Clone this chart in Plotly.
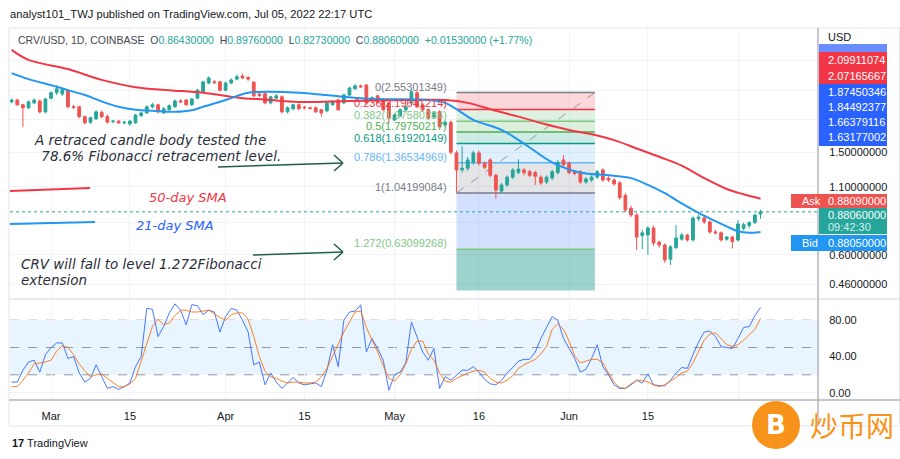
import math
import pandas as pd
import plotly.graph_objects as go

W, H = 900, 459

# ---------------- data ----------------
dates = pd.date_range("2022-02-22", periods=134, freq="D")

open_ = [2.35, 2.39, 2.29, 2.23, 2.33, 2.37, 2.15, 2.43, 2.55, 2.52,
         2.60, 2.25, 2.25, 2.06, 1.96, 2.02, 2.14, 2.06, 1.97, 1.98,
         1.95, 1.93, 1.95, 2.08, 2.13, 2.25, 2.29, 2.13, 2.19, 2.25,
         2.37, 2.39, 2.29, 2.43, 2.57, 2.78, 2.81, 2.81, 2.61, 2.78,
         2.88, 2.96, 2.92, 2.80, 2.52, 2.53, 2.33, 2.43, 2.46, 2.15,
         2.21, 2.29, 2.24, 2.23, 2.23, 2.19, 2.17, 2.29, 2.39, 2.33,
         2.50, 2.64, 2.71, 2.73, 2.41, 2.48, 2.37, 2.33, 2.00, 2.07,
         2.19, 2.33, 2.55, 2.29, 2.19, 2.06, 2.15, 1.91, 1.96, 1.49,
         1.28, 1.30, 1.37, 1.49, 1.36, 1.40, 1.22, 1.06, 1.12, 1.20,
         1.25, 1.28, 1.26, 1.25, 1.20, 1.15, 1.19, 1.25, 1.40, 1.36,
         1.26, 1.26, 1.15, 1.17, 1.20, 1.28, 1.19, 1.17, 1.14, 1.02,
         0.91, 0.856, 0.713, 0.716, 0.762, 0.672, 0.655, 0.577, 0.64, 0.69,
         0.716, 0.685, 0.828, 0.834, 0.805, 0.736, 0.73, 0.69, 0.703, 0.685,
         0.76, 0.78, 0.80, 0.8643]
high = [2.42, 2.42, 2.31, 2.38, 2.42, 2.40, 2.44, 2.58, 2.73, 2.66,
        2.63, 2.29, 2.27, 2.08, 2.06, 2.18, 2.18, 2.10, 2.00, 2.00,
        1.98, 2.00, 2.11, 2.15, 2.28, 2.33, 2.31, 2.24, 2.30, 2.40,
        2.41, 2.41, 2.44, 2.64, 2.84, 2.95, 2.86, 2.84, 2.82, 2.90,
        3.00, 3.02, 2.96, 2.83, 2.56, 2.56, 2.48, 2.52, 2.49, 2.26,
        2.31, 2.32, 2.27, 2.25, 2.26, 2.21, 2.36, 2.38, 2.42, 2.53,
        2.69, 2.76, 2.75, 2.76, 2.47, 2.51, 2.40, 2.35, 2.12, 2.22,
        2.29, 2.62, 2.60, 2.32, 2.22, 2.16, 2.18, 1.99, 1.99, 1.52,
        1.58, 1.44, 1.52, 1.52, 1.38, 1.42, 1.24, 1.14, 1.22, 1.30,
        1.41, 1.30, 1.28, 1.27, 1.22, 1.22, 1.28, 1.40, 1.46, 1.38,
        1.28, 1.28, 1.20, 1.22, 1.28, 1.30, 1.21, 1.19, 1.16, 1.04,
        0.93, 0.87, 0.75, 0.775, 0.78, 0.68, 0.665, 0.655, 0.783, 0.73,
        0.725, 0.845, 0.86, 0.85, 0.815, 0.75, 0.74, 0.71, 0.71, 0.82,
        0.80, 0.81, 0.865, 0.8976]
low = [2.32, 2.27, 1.88, 2.20, 2.30, 2.12, 2.12, 2.40, 2.50, 2.48,
       2.22, 2.20, 2.03, 1.92, 1.93, 2.00, 2.03, 1.94, 1.94, 1.93,
       1.92, 1.90, 1.93, 2.05, 2.11, 2.22, 2.12, 2.11, 2.17, 2.23,
       2.33, 2.27, 2.27, 2.41, 2.55, 2.75, 2.76, 2.58, 2.58, 2.75,
       2.85, 2.88, 2.84, 2.45, 2.45, 2.30, 2.30, 2.40, 2.12, 2.12,
       2.18, 2.18, 2.20, 2.19, 2.13, 2.06, 2.14, 2.27, 2.17, 2.30,
       2.47, 2.62, 2.66, 2.30, 2.38, 2.32, 2.16, 1.95, 1.98, 2.05,
       2.15, 2.29, 2.22, 2.15, 2.00, 2.02, 1.85, 1.88, 1.47, 1.042,
       1.25, 1.27, 1.34, 1.33, 1.29, 1.20, 0.99, 1.04, 1.10, 1.18,
       1.23, 1.22, 1.20, 1.12, 1.12, 1.13, 1.17, 1.23, 1.32, 1.23,
       1.22, 1.13, 1.13, 1.15, 1.18, 1.15, 1.15, 1.11, 0.98, 0.88,
       0.84, 0.626, 0.63, 0.60, 0.65, 0.64, 0.558, 0.548, 0.63, 0.68,
       0.675, 0.675, 0.81, 0.79, 0.725, 0.72, 0.675, 0.68, 0.635, 0.675,
       0.745, 0.76, 0.79, 0.8273]
close = [2.39, 2.29, 2.23, 2.35, 2.39, 2.15, 2.41, 2.55, 2.64, 2.62,
         2.25, 2.24, 2.06, 1.95, 2.04, 2.15, 2.06, 1.96, 1.98, 1.95,
         1.96, 1.98, 2.09, 2.13, 2.25, 2.29, 2.15, 2.21, 2.27, 2.37,
         2.35, 2.29, 2.41, 2.61, 2.81, 2.91, 2.79, 2.61, 2.78, 2.86,
         2.94, 2.91, 2.88, 2.48, 2.49, 2.33, 2.46, 2.48, 2.15, 2.23,
         2.29, 2.21, 2.23, 2.22, 2.15, 2.13, 2.33, 2.35, 2.19, 2.50,
         2.66, 2.71, 2.69, 2.33, 2.44, 2.35, 2.19, 2.04, 2.09, 2.19,
         2.25, 2.57, 2.25, 2.19, 2.04, 2.13, 1.88, 1.96, 1.50, 1.28,
         1.30, 1.40, 1.49, 1.36, 1.31, 1.22, 1.07, 1.12, 1.20, 1.28,
         1.29, 1.25, 1.22, 1.21, 1.14, 1.20, 1.26, 1.37, 1.34, 1.25,
         1.24, 1.15, 1.18, 1.20, 1.26, 1.17, 1.17, 1.13, 1.00, 0.895,
         0.856, 0.703, 0.73, 0.762, 0.667, 0.655, 0.573, 0.644, 0.697, 0.716,
         0.685, 0.834, 0.84, 0.805, 0.736, 0.73, 0.685, 0.703, 0.675, 0.79,
         0.785, 0.80, 0.856, 0.8806]

sma50_idx = [0, 3, 10, 16, 22, 28, 34, 41, 45, 51, 60, 71, 77, 81, 86, 90,
             95, 99, 103, 107, 111, 115, 119, 123, 127, 130, 133]
sma50_val = [3.74, 3.42, 3.15, 2.86, 2.68, 2.61, 2.55, 2.43, 2.40, 2.35, 2.37,
             2.39, 2.39, 2.33, 2.17, 2.06, 1.92, 1.83, 1.76, 1.67, 1.55, 1.44,
             1.33, 1.19, 1.08, 1.03, 0.99]
sma21_idx = [0, 3, 7, 10, 13, 16, 19, 22, 25, 29, 32, 34, 38, 42, 45, 51, 59,
             65, 74, 77, 80, 82, 87, 91, 96, 101, 106, 110, 113, 116, 119, 122,
             125, 127, 129, 131, 133]
sma21_val = [3.04, 2.88, 2.73, 2.61, 2.50, 2.36, 2.25, 2.19, 2.17, 2.15, 2.18,
             2.25, 2.39, 2.55, 2.57, 2.55, 2.46, 2.41, 2.39, 2.33, 2.13, 2.00,
             1.83, 1.62, 1.37, 1.25, 1.22, 1.19, 1.12, 1.04, 0.95, 0.873, 0.81,
             0.773, 0.74, 0.73, 0.736]

stoch_k = [12, 12, 25, 34, 36, 23, 42, 50, 55, 55, 38, 40, 22, 12, 16, 31, 18, 5,
           7, 4, 7, 11, 29, 40, 93, 92, 62, 73, 88, 98, 91, 75, 97, 96, 86, 91,
           89, 67, 84, 93, 91, 80, 67, 31, 34, 9, 22, 12, 5, 11, 17, 11, 9, 10,
           11, 7, 25, 53, 29, 80, 89, 90, 97, 45, 60, 49, 36, 3, 20, 23, 33, 78,
           62, 45, 36, 49, 5, 18, 14, 20, 25, 25, 29, 23, 15, 10, 9, 14, 22, 28,
           35, 37, 37, 45, 60, 72, 84, 80, 60, 49, 38, 23, 26, 38, 53, 29, 20, 9,
           5, 5, 9, 14, 11, 21, 9, 8, 8, 14, 22, 28, 27, 42, 56, 67, 68, 62, 51,
           50, 49, 60, 72, 73, 85, 94]
stoch_d = [7, 7, 14, 22, 32, 33, 34, 36, 46, 52, 50, 42, 32, 24, 18, 20, 21, 16,
           11, 7, 7, 10, 16, 35, 55, 73, 81, 75, 77, 85, 91, 91, 89, 89, 90, 91,
           87, 83, 80, 86, 88, 88, 81, 62, 40, 24, 18, 16, 13, 11, 12, 12, 11, 11,
           12, 18, 27, 40, 54, 67, 78, 89, 90, 72, 58, 45, 30, 16, 13, 20, 32, 48,
           57, 57, 43, 36, 22, 13, 12, 16, 19, 22, 24, 25, 23, 16, 12, 11, 14, 19,
           27, 31, 34, 37, 43, 51, 70, 76, 70, 57, 41, 33, 35, 37, 37, 33, 22, 12,
           6, 5, 10, 14, 14, 12, 9, 7, 9, 13, 17, 22, 24, 33, 45, 58, 65, 66, 60,
           53, 51, 53, 58, 64, 70, 82]

fib_high = 2.55301349
fib_low = 1.04199084
fib_ratios = [0, 0.236, 0.382, 0.5, 0.618, 0.786, 1, 1.272]
fib_ext_bottom = 0.436
fib_start = "2022-05-12 00:00"
fib_end = "2022-06-05 14:00"

last_price = 0.8806
header_ohlc = ["0.86430000", "0.89760000", "0.82730000", "0.88060000"]
header_change = "+0.01530000 (+1.77%)"

price_ticks = [0.46, 0.6, 0.8, 1.1, 1.5, 2.0, 2.6, 3.4]
price_tick_text = ["0.46000000", "0.60000000", "", "1.10000000", "1.50000000", "", "", ""]
stoch_ticks = [0, 40, 80]
stoch_tick_text = ["0.00", "40.00", "80.00"]
x_tick_dates = ["2022-03-01", "2022-03-15", "2022-04-01", "2022-04-15", "2022-05-01",
                "2022-05-16", "2022-06-01", "2022-06-15", "2022-07-01"]
x_tick_text = ["Mar", "15", "Apr", "15", "May", "16", "Jun", "15", ""]

red_labels = ["2.09911074", "2.07165667"]
blue_labels = ["1.87450346", "1.84492377", "1.66379116", "1.63177002"]
ask_bid = ["0.88090000", "0.88060000", "09:42:30", "0.88050000"]

# ---------------- helpers (pixel -> paper) ----------------
def px(x):
    return x / W


def py(y):
    return 1 - y / H


UP = "#26a69a"
DOWN = "#ef5350"
FONT = "Liberation Sans"
TXT = "#131722"

fig = go.Figure()

fig.add_trace(go.Candlestick(
    x=dates, open=open_, high=high, low=low, close=close,
    increasing=dict(line=dict(color=UP, width=1), fillcolor=UP),
    decreasing=dict(line=dict(color=DOWN, width=1), fillcolor=DOWN),
    whiskerwidth=0, xaxis="x", yaxis="y", hoverinfo="skip"))

fig.add_trace(go.Scatter(x=[dates[i] for i in sma50_idx], y=sma50_val, mode="lines",
                         line=dict(color="#f23645", width=2, shape="spline", smoothing=1.0),
                         xaxis="x", yaxis="y", hoverinfo="skip"))
fig.add_trace(go.Scatter(x=[dates[i] for i in sma21_idx], y=sma21_val, mode="lines",
                         line=dict(color="#2196f3", width=2, shape="spline", smoothing=1.0),
                         xaxis="x", yaxis="y", hoverinfo="skip"))

fig.add_trace(go.Scatter(x=dates, y=stoch_k, mode="lines",
                         line=dict(color="#2962ff", width=1), xaxis="x2", yaxis="y2",
                         hoverinfo="skip", opacity=0.85))
fig.add_trace(go.Scatter(x=dates, y=stoch_d, mode="lines",
                         line=dict(color="#ff6d00", width=1), xaxis="x2", yaxis="y2",
                         hoverinfo="skip", opacity=0.85))

shapes = []
annotations = []

# ---- Fibonacci ----
def fib_level(r):
    return fib_high - r * (fib_high - fib_low)

band_colors = ["rgba(242,54,69,0.2)", "rgba(129,199,132,0.25)", "rgba(76,175,80,0.2)",
               "rgba(8,153,129,0.2)", "rgba(100,181,246,0.2)", "rgba(120,123,134,0.2)",
               "rgba(41,98,255,0.2)"]
line_colors = ["#787b86", "#f23645", "#81c784", "#4caf50", "#089981", "#64b5f6",
               "#787b86", "#81c784"]
for i in range(len(fib_ratios) - 1):
    shapes.append(dict(type="rect", xref="x", yref="y", x0=fib_start, x1=fib_end,
                       y0=fib_level(fib_ratios[i]), y1=fib_level(fib_ratios[i + 1]),
                       fillcolor=band_colors[i], line=dict(width=0), layer="between"))
shapes.append(dict(type="rect", xref="x", yref="y", x0=fib_start, x1=fib_end,
                   y0=fib_level(fib_ratios[-1]), y1=fib_ext_bottom,
                   fillcolor="rgba(0,137,123,0.38)", line=dict(width=0), layer="between"))
for r, c in zip(fib_ratios, line_colors):
    lv = fib_level(r)
    shapes.append(dict(type="line", xref="x", yref="y", x0=fib_start, x1=fib_end,
                       y0=lv, y1=lv, line=dict(color=c, width=1.5), layer="between"))
    annotations.append(dict(xref="x", yref="y", x=fib_start, y=math.log10(lv),
                            text=f"{r:g}({lv:.8f})", showarrow=False,
                            xanchor="right", yanchor="bottom", xshift=-7, yshift=-2,
                            font=dict(family=FONT, size=11, color=c)))
shapes.append(dict(type="line", xref="x", yref="y", x0=fib_start, x1=fib_end,
                   y0=fib_low, y1=fib_high,
                   line=dict(color="#9598a1", width=1, dash="dash"), layer="between"))

# current price dotted line
shapes.append(dict(type="line", xref="paper", yref="y", x0=px(10), x1=px(818),
                   y0=last_price, y1=last_price,
                   line=dict(color=UP, width=1, dash="dot"), layer="above"))

# stoch band
shapes.append(dict(type="rect", xref="paper", yref="y2", x0=px(10), x1=px(818), y0=20, y1=80,
                   fillcolor="rgba(33,150,243,0.1)", line=dict(width=0), layer="below"))
for lvl in [80, 50, 20]:
    shapes.append(dict(type="line", xref="paper", yref="y2", x0=px(10), x1=px(818), y0=lvl, y1=lvl,
                       line=dict(color="#9598a1", width=1, dash="dash"), layer="below"))

# frame lines
shapes.append(dict(type="rect", xref="paper", yref="paper", x0=px(9), x1=px(899.5),
                   y0=py(426), y1=py(28), line=dict(color="#e0e3eb", width=1)))
shapes.append(dict(type="line", xref="paper", yref="paper", x0=px(818), x1=px(818),
                   y0=py(426), y1=py(28), line=dict(color="#b2b5be", width=1.5)))
shapes.append(dict(type="line", xref="paper", yref="paper", x0=px(9), x1=px(899.5),
                   y0=py(299), y1=py(299), line=dict(color="#d1d4dc", width=1)))
shapes.append(dict(type="line", xref="paper", yref="paper", x0=px(9), x1=px(899.5),
                   y0=py(400), y1=py(400), line=dict(color="#b2b5be", width=1.5)))

# legend lines
shapes.append(dict(type="line", xref="paper", yref="paper", x0=px(10), x1=px(90),
                   y0=py(191), y1=py(188), line=dict(color="#f23645", width=2)))
shapes.append(dict(type="line", xref="paper", yref="paper", x0=px(10), x1=px(95),
                   y0=py(224), y1=py(222), line=dict(color="#2196f3", width=2)))

# arrows
ARW = "#1f5f4a"
for (x0, y0, x1, y1) in [(218, 167, 343, 163), (253, 255, 343, 252)]:
    shapes.append(dict(type="line", xref="paper", yref="paper", x0=px(x0), y0=py(y0),
                       x1=px(x1), y1=py(y1), line=dict(color=ARW, width=1.5)))
    shapes.append(dict(type="line", xref="paper", yref="paper", x0=px(x1 - 9), y0=py(y1 - 8),
                       x1=px(x1), y1=py(y1), line=dict(color=ARW, width=1.5)))
    shapes.append(dict(type="line", xref="paper", yref="paper", x0=px(x1 - 9), y0=py(y1 + 8),
                       x1=px(x1), y1=py(y1), line=dict(color=ARW, width=1.5)))

# right-axis label boxes
def box(x0, y0, x1, y1, color):
    shapes.append(dict(type="rect", xref="paper", yref="paper", x0=px(x0), x1=px(x1),
                       y0=py(y1), y1=py(y0), fillcolor=color, line=dict(width=0),
                       layer="above"))

def label(x, y, text, color="white", size=11, anchor="left"):
    annotations.append(dict(xref="paper", yref="paper", x=px(x), y=py(y), text=text,
                            showarrow=False, xanchor=anchor, yanchor="middle",
                            font=dict(family=FONT, size=size, color=color)))

box(819, 44, 887, 52, "#6a8cff")
box(819, 52, 887, 84, "#f23645")
for i, t in enumerate(red_labels):
    label(826, 60 + 16 * i, t)
box(819, 84, 887, 146, "#2962ff")
for i, t in enumerate(blue_labels):
    label(826, 92 + 15 * i, t)
box(791, 194, 887, 208, "#ef5350")
label(800, 201, "Ask")
label(826, 201, ask_bid[0])
box(819, 208, 887, 234, "#26a69a")
label(826, 215, ask_bid[1])
label(826, 227, ask_bid[2], color="#d8f0ed")
box(791, 235, 887, 251, "#2196f3")
label(800, 243, "Bid")
label(826, 243, ask_bid[3])
label(826, 37, "USD", color=TXT)

# texts
label(8, 14, "analyst101_TWJ published on TradingView.com, Jul 05, 2022 22:17 UTC",
      color=TXT, size=11.2)
hdr = ("CRV/USD, 1D, COINBASE  "
       f"O<span style='color:{UP}'>{header_ohlc[0]}</span>  "
       f"H<span style='color:{UP}'>{header_ohlc[1]}</span>  "
       f"L<span style='color:{UP}'>{header_ohlc[2]}</span>  "
       f"C<span style='color:{UP}'>{header_ohlc[3]}</span>  "
       f"<span style='color:{UP}'>{header_change}</span>")
label(16, 40, hdr, color="#434651", size=10.5)

IT = "DejaVu Sans"
def itext(x, y, text, color, size=13.5, anchor="left"):
    annotations.append(dict(xref="paper", yref="paper", x=px(x), y=py(y),
                            text=f"<i>{text}</i>", showarrow=False, xanchor=anchor,
                            yanchor="middle", font=dict(family=IT, size=size, color=color)))

itext(32, 140, "A retraced candle body tested the", "#2a2e39")
itext(35, 156, " 78.6% Fibonacci retracement level.", "#2a2e39")
itext(188, 197, "50-day SMA", "#f23645", size=13, anchor="center")
itext(175, 226, "21-day SMA", "#2962ff", size=13, anchor="center")
itext(19, 264, "CRV will fall to level 1.272Fibonacci", "#2a2e39")
itext(19, 280, "extension", "#2a2e39")

label(10, 443, "<b>17</b> TradingView", color=TXT, size=11)

# watermark
shapes.append(dict(type="circle", xref="paper", yref="paper", x0=px(752), x1=px(800),
                   y0=py(449), y1=py(401), fillcolor="#f7931a", line=dict(width=0),
                   layer="above"))
annotations.append(dict(xref="paper", yref="paper", x=px(776), y=py(425), text="<b>B</b>",
                        showarrow=False, xanchor="center", yanchor="middle",
                        font=dict(family="DejaVu Sans", size=26, color="white")))
annotations.append(dict(xref="paper", yref="paper", x=px(852), y=py(425), text="炒币网",
                        showarrow=False, xanchor="center", yanchor="middle",
                        font=dict(family="Noto Sans CJK SC", size=28, color="#f7931a")))

xr = ["2022-02-21 17:00", "2022-07-15 05:00"]
fig.update_layout(
    width=W, height=H, margin=dict(l=0, r=0, t=0, b=0),
    paper_bgcolor="white", plot_bgcolor="white", showlegend=False,
    font=dict(family=FONT, size=11, color=TXT),
    xaxis=dict(domain=[px(10), px(818)], anchor="y", range=xr, type="date",
               tickvals=x_tick_dates, showticklabels=False, showgrid=True,
               gridcolor="#f0f3fa", zeroline=False, rangeslider=dict(visible=False),
               fixedrange=True),
    yaxis=dict(domain=[py(298), py(28)], anchor="x", type="log",
               range=[-0.3893, 0.6576], side="right", tickvals=price_ticks,
               ticktext=price_tick_text, showgrid=True, gridcolor="#f0f3fa",
               zeroline=False, ticks="outside", ticklen=8, tickcolor="rgba(0,0,0,0)",
               tickfont=dict(family=FONT, size=11, color=TXT)),
    xaxis2=dict(domain=[px(10), px(818)], anchor="y2", range=xr, type="date",
                matches="x", tickvals=x_tick_dates, ticktext=x_tick_text,
                showgrid=True, gridcolor="#f0f3fa", zeroline=False, ticks="outside",
                ticklen=6, tickcolor="rgba(0,0,0,0)",
                tickfont=dict(family=FONT, size=11, color=TXT)),
    yaxis2=dict(domain=[py(400), py(300)], anchor="x2", range=[-7.7, 102.2],
                side="right", tickvals=stoch_ticks, ticktext=stoch_tick_text,
                showgrid=True, gridcolor="#f0f3fa", zeroline=False, ticks="outside",
                ticklen=8, tickcolor="rgba(0,0,0,0)",
                tickfont=dict(family=FONT, size=11, color=TXT)),
    shapes=shapes, annotations=annotations,
)

fig.write_html("out.html")
